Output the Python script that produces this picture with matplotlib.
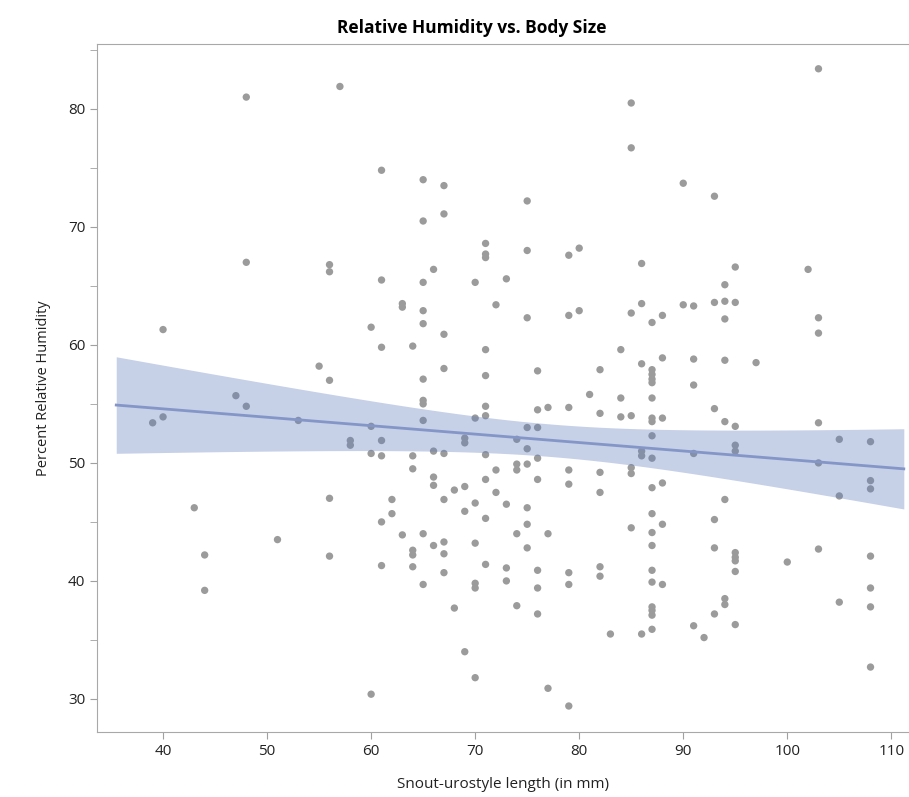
import numpy as np
import matplotlib
matplotlib.use("agg")
import matplotlib.pyplot as plt
from matplotlib.ticker import MultipleLocator

# snout-urostyle length (mm) and percent relative humidity
snout_mm = [
    48, 57, 48, 56, 56, 85, 85, 61, 65, 67, 75, 65, 67, 71, 71, 71, 75, 79, 80, 86, 66,
    61, 65, 70, 73, 103, 90, 93, 95, 102,
    40, 60, 55, 56, 47, 48, 39, 40, 53, 60, 58, 58, 60, 56, 43,
    63, 63, 65, 65, 72, 75, 79, 80, 86, 85,
    67, 61, 64, 71, 84, 67, 71, 76, 82, 86, 65, 65, 65, 65, 81, 84, 71, 71, 70, 76, 77, 79, 82, 84, 85,
    61, 69, 69, 74, 75, 76, 75, 86, 86, 61, 64, 66, 67, 71, 76, 75, 74, 74, 72, 64, 79, 82, 85, 85,
    66, 66, 68, 69, 71, 72, 76, 79, 82, 62, 67, 70, 73, 75, 69,
    62, 61, 71, 75, 63, 65, 66, 67, 67, 64, 64, 64, 61, 65, 67, 70, 71, 70, 70, 68, 69, 70,
    73, 73, 74, 75, 74, 76, 76, 76, 77, 77, 79, 79, 79, 82, 82, 83, 85, 86, 60,
    44, 44, 51, 56,
    94, 88, 87, 90, 91, 93, 94, 95, 94, 103, 103, 88, 91, 94, 97, 87, 87, 87, 87, 87, 91, 93,
    87, 87, 88, 94, 95, 103, 87, 105, 108, 87, 91, 95, 95, 103, 87, 88, 94, 105, 108, 108,
    87, 88, 87, 87, 93, 93, 95, 95, 95, 95, 100, 103, 108, 108, 108, 108, 105, 87, 87, 88,
    87, 87, 87, 87, 94, 94, 93, 91, 92, 95,
]
humidity = [
    81.0, 81.9, 67.0, 66.8, 66.2, 80.5, 76.7, 74.8, 74.0, 73.5, 72.2, 70.5, 71.1, 68.6, 67.7, 67.4, 68.0, 67.6, 68.2, 66.9, 66.4,
    65.5, 65.3, 65.3, 65.6, 83.4, 73.7, 72.6, 66.6, 66.4,
    61.3, 61.5, 58.2, 57.0, 55.7, 54.8, 53.4, 53.9, 53.6, 53.1, 51.9, 51.5, 50.8, 47.0, 46.2,
    63.5, 63.2, 62.9, 61.8, 63.4, 62.3, 62.5, 62.9, 63.5, 62.7,
    60.9, 59.8, 59.9, 59.6, 59.6, 58.0, 57.4, 57.8, 57.9, 58.4, 57.1, 55.3, 55.0, 53.6, 55.8, 55.5, 54.8, 54.0, 53.8, 54.5, 54.7, 54.7, 54.2, 53.9, 54.0,
    51.9, 52.1, 51.7, 52.0, 53.0, 53.0, 51.2, 51.0, 50.6, 50.6, 50.6, 51.0, 50.8, 50.7, 50.4, 49.9, 49.9, 49.4, 49.4, 49.5, 49.4, 49.2, 49.6, 49.1,
    48.8, 48.1, 47.7, 48.0, 48.6, 47.5, 48.6, 48.2, 47.5, 46.9, 46.9, 46.6, 46.5, 46.2, 45.9,
    45.7, 45.0, 45.3, 44.8, 43.9, 44.0, 43.0, 43.3, 42.3, 42.6, 42.2, 41.2, 41.3, 39.7, 40.7, 43.2, 41.4, 39.8, 39.4, 37.7, 34.0, 31.8,
    41.1, 40.0, 44.0, 42.8, 37.9, 40.9, 39.4, 37.2, 44.0, 30.9, 40.7, 39.7, 29.4, 41.2, 40.4, 35.5, 44.5, 35.5, 30.4,
    42.2, 39.2, 43.5, 42.1,
    65.1, 62.5, 61.9, 63.4, 63.3, 63.6, 63.7, 63.6, 62.2, 62.3, 61.0, 58.9, 58.8, 58.7, 58.5, 57.9, 57.5, 57.1, 56.8, 55.5, 56.6, 54.6,
    53.8, 53.5, 53.8, 53.5, 53.1, 53.4, 52.3, 52.0, 51.8, 50.4, 50.8, 51.5, 51.0, 50.0, 47.9, 48.3, 46.9, 47.2, 48.5, 47.8,
    45.7, 44.8, 44.1, 43.0, 45.2, 42.8, 42.4, 42.0, 41.7, 40.8, 41.6, 42.7, 42.1, 39.4, 37.8, 32.7, 38.2, 40.9, 39.9, 39.7,
    37.8, 37.5, 37.1, 35.9, 38.5, 38.0, 37.2, 36.2, 35.2, 36.3,
]

x_ticks = [40, 50, 60, 70, 80, 90, 100, 110]
y_ticks = [30, 40, 50, 60, 70, 80]

x = np.array(snout_mm, dtype=float)
y = np.array(humidity, dtype=float)

# least squares fit with 95% band for the mean
slope, intercept = np.polyfit(x, y, 1)
n = len(x)
resid = y - (slope * x + intercept)
s = np.sqrt(np.sum(resid ** 2) / (n - 2))
sxx = np.sum((x - x.mean()) ** 2)
xs = np.linspace(35.5, 111.2, 100)
fit = slope * xs + intercept
half = 1.97 * s * np.sqrt(1 / n + (xs - x.mean()) ** 2 / sxx)

plt.rcParams['font.family'] = ['Open Sans', 'DejaVu Sans']

fig = plt.figure(figsize=(9.09, 7.97), dpi=100)
ax = fig.add_axes([0.1067, 0.0816, 0.8933, 0.8632])

ax.scatter(x, y, s=28, color='#9b9b9b', edgecolors='none', zorder=1)
ax.fill_between(xs, fit - half, fit + half, color='#5c79bd', alpha=0.35, lw=0, zorder=2)
ax.plot(xs, fit, color='#8496c8', lw=2, zorder=3)

ax.set_xlim(33.65, 111.7)
ax.set_ylim(27.2, 85.5)
ax.set_xticks(x_ticks)
ax.set_yticks(y_ticks)
ax.yaxis.set_minor_locator(MultipleLocator(5))
ax.tick_params(axis='both', which='both', length=5, color='#a0a0a0',
               labelsize=11, labelcolor='#222222')

for side in ['left', 'bottom', 'top']:
    ax.spines[side].set_color('#a8a8a8')
ax.spines['right'].set_visible(False)

ax.set_xlabel('Snout-urostyle length (in mm)', fontsize=11, color='#222222', labelpad=13)
ax.set_ylabel('Percent Relative Humidity', fontsize=10.5, color='#222222', labelpad=12)
fig.text(0.519, 0.965, 'Relative Humidity vs. Body Size', ha='center', va='center',
         fontsize=12.5, fontweight='bold')

fig.savefig('out.png', dpi=100)
